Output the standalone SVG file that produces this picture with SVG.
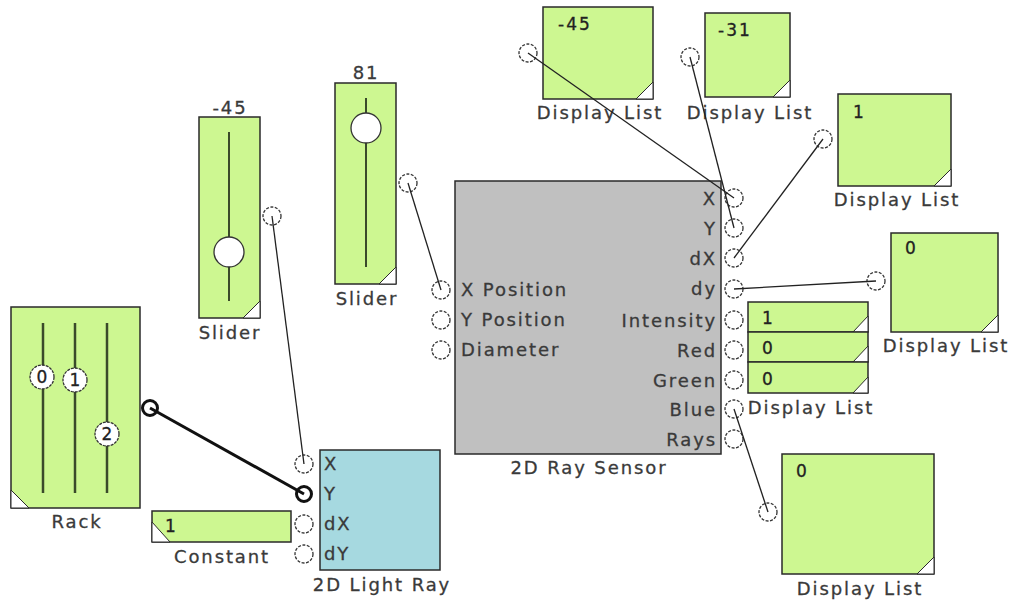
<svg xmlns="http://www.w3.org/2000/svg" width="1014" height="603" viewBox="0 0 1014 603">
<style>
  .g{fill:#cdf791;stroke:#2a2a2a;stroke-width:1.5}
  .t{font-family:"DejaVu Sans",Verdana,sans-serif;font-size:18px;letter-spacing:1.9px;fill:#3a3a3a;stroke:#3a3a3a;stroke-width:0.3}
  .v{font-family:"DejaVu Sans",Verdana,sans-serif;font-size:17px;letter-spacing:2px;fill:#222;stroke:#222;stroke-width:0.3}
  .port{fill:#fff;stroke:#333;stroke-width:1.3;stroke-dasharray:3 1.5}
  .bport{fill:#fff;stroke:#111;stroke-width:3}
  .tri{fill:#fff;stroke:#2a2a2a;stroke-width:1}
  .wire{stroke:#222;stroke-width:1.3;fill:none}
  .track{stroke:#3a4a2a;stroke-width:2.5}
  .knob{fill:#fff;stroke:#333;stroke-width:1.3;stroke-dasharray:3 1}
</style>
<rect width="1014" height="603" fill="#fff"/>
<g id="rack">
  <rect class="g" x="11" y="307" width="129" height="201"/>
  <polygon class="tri" points="11,490 11,508 29,508"/>
  <line class="track" x1="43" y1="323" x2="43" y2="493"/>
  <line class="track" x1="75" y1="323" x2="75" y2="493"/>
  <line class="track" x1="107" y1="323" x2="107" y2="493"/>
  <circle class="knob" cx="42" cy="377" r="12"/>
  <text class="v" x="43" y="383" text-anchor="middle">0</text>
  <circle class="knob" cx="75" cy="380" r="12"/>
  <text class="v" x="76" y="386" text-anchor="middle">1</text>
  <circle class="knob" cx="107" cy="434" r="12"/>
  <text class="v" x="108" y="440" text-anchor="middle">2</text>
  <circle class="bport" cx="150" cy="408" r="7.5"/>
  <text class="t" x="77" y="528" text-anchor="middle">Rack</text>
</g>
<g id="slider1">
  <text class="t" x="230" y="114" text-anchor="middle">-45</text>
  <rect class="g" x="199" y="117" width="61" height="201"/>
  <polygon class="tri" points="260,301 260,318 243,318"/>
  <line class="track" x1="229" y1="132" x2="229" y2="301" style="stroke-width:2"/>
  <circle class="knob" cx="229" cy="252" r="15" style="stroke-dasharray:none"/>
  <circle class="port" cx="272" cy="216" r="9"/>
  <text class="t" x="230" y="339" text-anchor="middle">Slider</text>
</g>
<g id="slider2">
  <text class="t" x="366" y="79" text-anchor="middle">81</text>
  <rect class="g" x="335" y="83" width="61" height="201"/>
  <polygon class="tri" points="396,267 396,284 379,284"/>
  <line class="track" x1="366" y1="98" x2="366" y2="267" style="stroke-width:2"/>
  <circle class="knob" cx="366" cy="128" r="15" style="stroke-dasharray:none"/>
  <circle class="port" cx="408" cy="183" r="9"/>
  <text class="t" x="367" y="305" text-anchor="middle">Slider</text>
</g>
<g id="constant">
  <rect class="g" x="152" y="511" width="139" height="31"/>
  <polygon class="tri" points="152,522 152,542 170,542"/>
  <text class="v" x="165" y="532">1</text>
  <text class="t" x="222" y="563" text-anchor="middle">Constant</text>
</g>
<g id="lightray">
  <rect x="320" y="450" width="120" height="120" fill="#a6d9e0" stroke="#2a2a2a" stroke-width="1.5"/>
  <circle class="port" cx="304" cy="464" r="9"/>
  <circle class="bport" cx="304" cy="494" r="7.5"/>
  <circle class="port" cx="304" cy="524" r="9"/>
  <circle class="port" cx="304" cy="554" r="9"/>
  <text class="t" x="324" y="470">X</text>
  <text class="t" x="324" y="500">Y</text>
  <text class="t" x="324" y="530">dX</text>
  <text class="t" x="324" y="560">dY</text>
  <text class="t" x="382" y="591" text-anchor="middle">2D Light Ray</text>
</g>
<g id="raysensor">
  <rect x="455" y="181" width="266" height="273" fill="#c0c0c0" stroke="#2a2a2a" stroke-width="1.5"/>
  <circle class="port" cx="441" cy="290" r="9"/>
  <circle class="port" cx="441" cy="320" r="9"/>
  <circle class="port" cx="441" cy="350" r="9"/>
  <text class="t" x="461" y="296">X Position</text>
  <text class="t" x="461" y="326">Y Position</text>
  <text class="t" x="461" y="356">Diameter</text>
  <circle class="port" cx="734" cy="198" r="9"/>
  <circle class="port" cx="734" cy="228" r="9"/>
  <circle class="port" cx="734" cy="258" r="9"/>
  <circle class="port" cx="734" cy="289" r="9"/>
  <circle class="port" cx="734" cy="320" r="9"/>
  <circle class="port" cx="734" cy="350" r="9"/>
  <circle class="port" cx="734" cy="380" r="9"/>
  <circle class="port" cx="734" cy="409" r="9"/>
  <circle class="port" cx="734" cy="439" r="9"/>
  <g class="t" text-anchor="end">
    <text x="717" y="205">X</text>
    <text x="717" y="235">Y</text>
    <text x="717" y="265">dX</text>
    <text x="717" y="295">dy</text>
    <text x="717" y="327">Intensity</text>
    <text x="717" y="357">Red</text>
    <text x="717" y="387">Green</text>
    <text x="717" y="416">Blue</text>
    <text x="717" y="446">Rays</text>
  </g>
  <text class="t" x="589" y="474" text-anchor="middle">2D Ray Sensor</text>
</g>
<g id="display1">
  <rect class="g" x="543" y="7" width="110" height="92"/>
  <polygon class="tri" points="653,82 653,99 636,99"/>
  <text class="v" x="558" y="30">-45</text>
  <circle class="port" cx="528" cy="53" r="9"/>
  <text class="t" x="600" y="119" text-anchor="middle">Display List</text>
</g>
<g id="display2">
  <rect class="g" x="705" y="13" width="85" height="84"/>
  <polygon class="tri" points="790,80 790,97 773,97"/>
  <text class="v" x="718" y="36">-31</text>
  <circle class="port" cx="690" cy="57" r="9"/>
  <text class="t" x="750" y="119" text-anchor="middle">Display List</text>
</g>
<g id="display3">
  <rect class="g" x="838" y="94" width="113" height="92"/>
  <polygon class="tri" points="951,169 951,186 934,186"/>
  <text class="v" x="853" y="118">1</text>
  <circle class="port" cx="823" cy="139" r="9"/>
  <text class="t" x="897" y="206" text-anchor="middle">Display List</text>
</g>
<g id="display4">
  <rect class="g" x="891" y="233" width="107" height="99"/>
  <polygon class="tri" points="998,315 998,332 981,332"/>
  <text class="v" x="905" y="254">0</text>
  <circle class="port" cx="876" cy="281" r="9"/>
  <text class="t" x="946" y="352" text-anchor="middle">Display List</text>
</g>
<g id="display5">
  <rect class="g" x="748" y="302" width="120" height="30"/>
  <polygon class="tri" points="868,316 868,332 853,332"/>
  <text class="v" x="762" y="324">1</text>
  <rect class="g" x="748" y="332" width="120" height="30"/>
  <polygon class="tri" points="868,346 868,362 853,362"/>
  <text class="v" x="762" y="354">0</text>
  <rect class="g" x="748" y="362" width="120" height="31"/>
  <polygon class="tri" points="868,377 868,393 853,393"/>
  <text class="v" x="762" y="385">0</text>
  <text class="t" x="811" y="414" text-anchor="middle">Display List</text>
</g>
<g id="display6">
  <rect class="g" x="782" y="454" width="152" height="120"/>
  <polygon class="tri" points="934,557 934,574 917,574"/>
  <text class="v" x="796" y="477">0</text>
  <circle class="port" cx="768" cy="512" r="9"/>
  <text class="t" x="860" y="595" text-anchor="middle">Display List</text>
</g>
<g id="connectors">
  <line class="wire" x1="150" y1="408" x2="304" y2="494" style="stroke:#111;stroke-width:3"/>
  <line class="wire" x1="272" y1="216" x2="304" y2="464"/>
  <line class="wire" x1="408" y1="183" x2="441" y2="290"/>
  <line class="wire" x1="528" y1="53" x2="734" y2="198"/>
  <line class="wire" x1="690" y1="57" x2="734" y2="228"/>
  <line class="wire" x1="823" y1="139" x2="734" y2="258"/>
  <line class="wire" x1="734" y1="289" x2="876" y2="281"/>
  <line class="wire" x1="734" y1="409" x2="768" y2="512"/>
</g>
</svg>
